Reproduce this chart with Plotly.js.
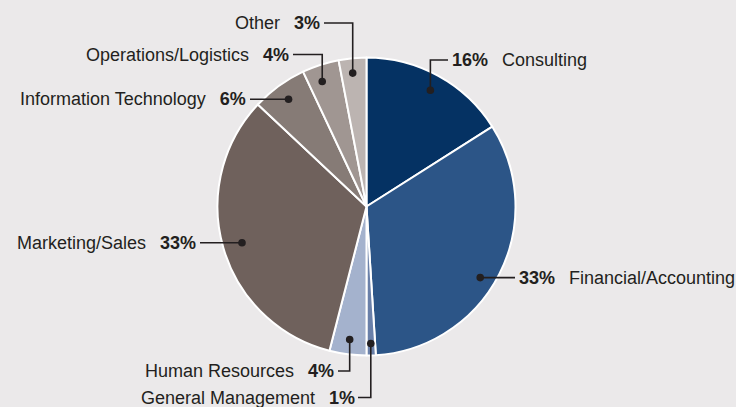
<!DOCTYPE html>
<html>
<head>
<meta charset="utf-8">
<script src="https://cdn.plot.ly/plotly-3.0.1.min.js"></script>
<style>html,body{margin:0;padding:0;background:#ebe9ea;}#chart{width:736px;height:407px;}</style>
</head>
<body>
<div id="chart"></div>
<script>
// ---- data ----
const categories = ["Consulting", "Financial/Accounting", "General Management", "Human Resources",
                    "Marketing/Sales", "Information Technology", "Operations/Logistics", "Other"];
const values = [16, 33, 1, 4, 33, 6, 4, 3];
const pctLabels = ["16%", "33%", "1%", "4%", "33%", "6%", "4%", "3%"];

// ---- styles ----
const colors = ["#053263", "#2c5587", "#6a80a9", "#a4b2cd", "#6f615c", "#867b76", "#a09692", "#bcb4b1"];
const W = 736, H = 407;
const bg = "#ebe9ea";
const ink = "#231f20";
const dom = {x: [0.2955, 0.7004], y: [0.1265, 0.8587]};

// label placement config (layout only)
const placement = [
  {side: "right", kind: "up",    elbowY: 60,    endX: 448, textX: 451, dA: 0,    rf: 0.89},
  {side: "right", kind: "horiz", endX: 515,     textX: 518, dA: 5,    rf: 0.90},
  {side: "left",  kind: "down",  elbowY: 397.5, endX: 358, textX: 356, dA: 0,    rf: 0.92},
  {side: "left",  kind: "down",  elbowY: 371,   endX: 338, textX: 335, dA: 0,    rf: 0.90},
  {side: "left",  kind: "horiz", endX: 200,     textX: 197, dA: 0,    rf: 0.87},
  {side: "left",  kind: "horiz", endX: 250,     textX: 247, dA: 0,    rf: 0.89},
  {side: "left",  kind: "up",    elbowY: 54.5,  endX: 293, textX: 290, dA: -1.5, rf: 0.89},
  {side: "left",  kind: "up",    elbowY: 23,    endX: 324, textX: 321, dA: -0.5, rf: 0.90}
];

const cx = (dom.x[0] + dom.x[1]) / 2 * W;
const cy = (1 - (dom.y[0] + dom.y[1]) / 2) * H;
const R = Math.min((dom.x[1] - dom.x[0]) * W, (dom.y[1] - dom.y[0]) * H) / 2;

const px = x => x / W;
const py = y => 1 - y / H;

const total = values.reduce((a, b) => a + b, 0);
let cum = 0;
const shapes = [], annotations = [];
const gap = "\u2002\u00a0";
values.forEach((v, i) => {
  const p = placement[i];
  const mid = (cum + v / 2) / total * 360 + p.dA;
  cum += v;
  const th = mid * Math.PI / 180;
  const r = p.rf * R;
  const dx = cx + r * Math.sin(th);
  const dy = cy - r * Math.cos(th);
  let path, ty;
  if (p.kind === "horiz") {
    path = `M ${px(dx)},${py(dy)} L ${px(p.endX)},${py(dy)}`;
    ty = dy;
  } else {
    path = `M ${px(dx)},${py(dy)} L ${px(dx)},${py(p.elbowY)} L ${px(p.endX)},${py(p.elbowY)}`;
    ty = p.elbowY;
  }
  shapes.push({type: "path", xref: "paper", yref: "paper", path: path, layer: "above",
               line: {color: ink, width: 1.6}});
  const rd = 3.8;
  shapes.push({type: "circle", xref: "paper", yref: "paper", layer: "above",
               x0: px(dx - rd), x1: px(dx + rd), y0: py(dy + rd), y1: py(dy - rd),
               fillcolor: ink, line: {color: ink, width: 0}});
  const txt = p.side === "left"
    ? categories[i] + gap + "<b>" + pctLabels[i] + "</b>"
    : "<b>" + pctLabels[i] + "</b>" + gap + categories[i];
  annotations.push({xref: "paper", yref: "paper", x: px(p.textX), y: py(ty),
                    xanchor: p.side === "left" ? "right" : "left", yanchor: "middle",
                    showarrow: false, text: txt, borderpad: 0,
                    font: {family: "Liberation Sans, Arial, sans-serif", size: 18, color: ink}});
});

const trace = {
  type: "pie",
  labels: categories,
  values: values,
  sort: false,
  direction: "clockwise",
  rotation: 0,
  textinfo: "none",
  hoverinfo: "none",
  domain: dom,
  marker: {colors: colors, line: {color: "#ffffff", width: 2}},
  showlegend: false
};

const layout = {
  width: W, height: H,
  margin: {l: 0, r: 0, t: 0, b: 0},
  paper_bgcolor: bg,
  plot_bgcolor: bg,
  showlegend: false,
  shapes: shapes,
  annotations: annotations
};

Plotly.newPlot("chart", [trace], layout, {displayModeBar: false, staticPlot: true});
</script>
</body>
</html>
